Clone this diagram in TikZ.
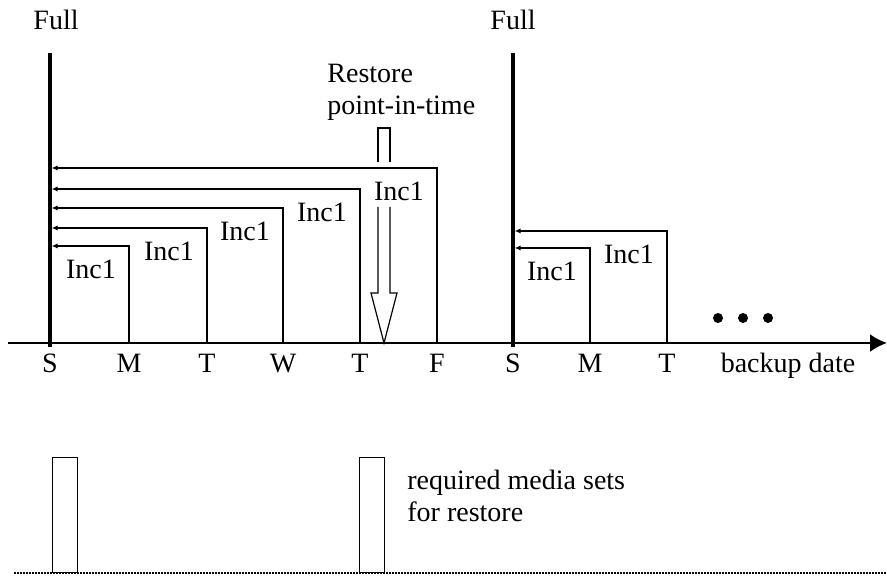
\documentclass[tikz,border=0pt]{standalone}
\usepackage{fontspec}
\setmainfont{Liberation Serif}
\usepackage{tikz}
\usetikzlibrary{arrows.meta}
\tikzstyle{inc}=[line width=0.6pt, -{Latex[length=3pt,width=2.6pt]}, shorten >=0.8pt]
\tikzstyle{full}=[line width=1.6pt]
\tikzstyle{day}=[anchor=base, inner sep=0pt]
\tikzstyle{media}=[draw, line width=0.6pt, minimum width=12.5pt, minimum height=57.5pt, inner sep=0pt, anchor=south west]

\begin{document}
\begin{tikzpicture}[x=0.5pt,y=0.5pt,font=\fontsize{14}{16}\selectfont]
\useasboundingbox (0,0) rectangle (887,576);
% days on the axis
\foreach \d/\x/\t in {s1/50/S,m1/129/M,t1/207/T,w1/283/W,h1/360/T,f1/437/F,s2/513/S,m2/590/M,t2/667/T}{
  \coordinate (\d) at (\x,233);
  \node[day] (l\d) at (\x,203) {\t};
}
\coordinate (a0) at (8,233);
\coordinate (a1) at (887,233);
\draw[line width=1.3pt, -{Latex[length=8.5pt,width=9pt]}] (a0) -- (a1);
\node[day] (date) at (788,203) {backup date};
\foreach \x in {718,743,768} \fill (\x,258) circle (2.5pt);
% full backups
\coordinate (top1) at (50,523);
\coordinate (top2) at (513,523);
\draw[full] ([yshift=-2pt]s1) -- (top1);
\draw[full] ([yshift=-2pt]s2) -- (top2);
\node (full1) at (56,556) {Full};
\node (full2) at (513,556) {Full};
% incrementals back to the last full
\foreach \d/\x/\h in {m1/129/330,t1/207/348,w1/283/368,h1/360/387,f1/437/408}{
  \draw[inc] (\d) |- (s1 |- 0,\h);
  \node (i\d) at (\x-38,\h-23) {Inc1};
}
\foreach \d/\x/\h in {m2/590/328,t2/667/345}{
  \draw[inc] (\d) |- (s2 |- 0,\h);
  \node (i\d) at (\x-38,\h-23) {Inc1};
}
% restore point
\draw[line width=0.6pt] (378,414) -- (378,448) -- (390,448) -- (390,414);
\draw[line width=0.6pt] (378,369) -- (378,283) -- (371,283) -- (384,233) -- (397,283) -- (390,283) -- (390,369);
\node[anchor=base west, align=left, inner sep=0pt] (restore) at (327,461) {Restore\\point-in-time};
% media sets
\node[media] (set1) at (52,3) {};
\node[media] (set2) at (359,3) {};
\node[anchor=base west, align=left, inner sep=0pt] (req) at (407,54) {required media sets\\for restore};
\coordinate (b0) at (14,3);
\coordinate (b1) at (887,3);
\draw[line width=1pt, dash pattern=on 0.8pt off 0.7pt] (b0) -- (b1);
\end{tikzpicture}
\end{document}
